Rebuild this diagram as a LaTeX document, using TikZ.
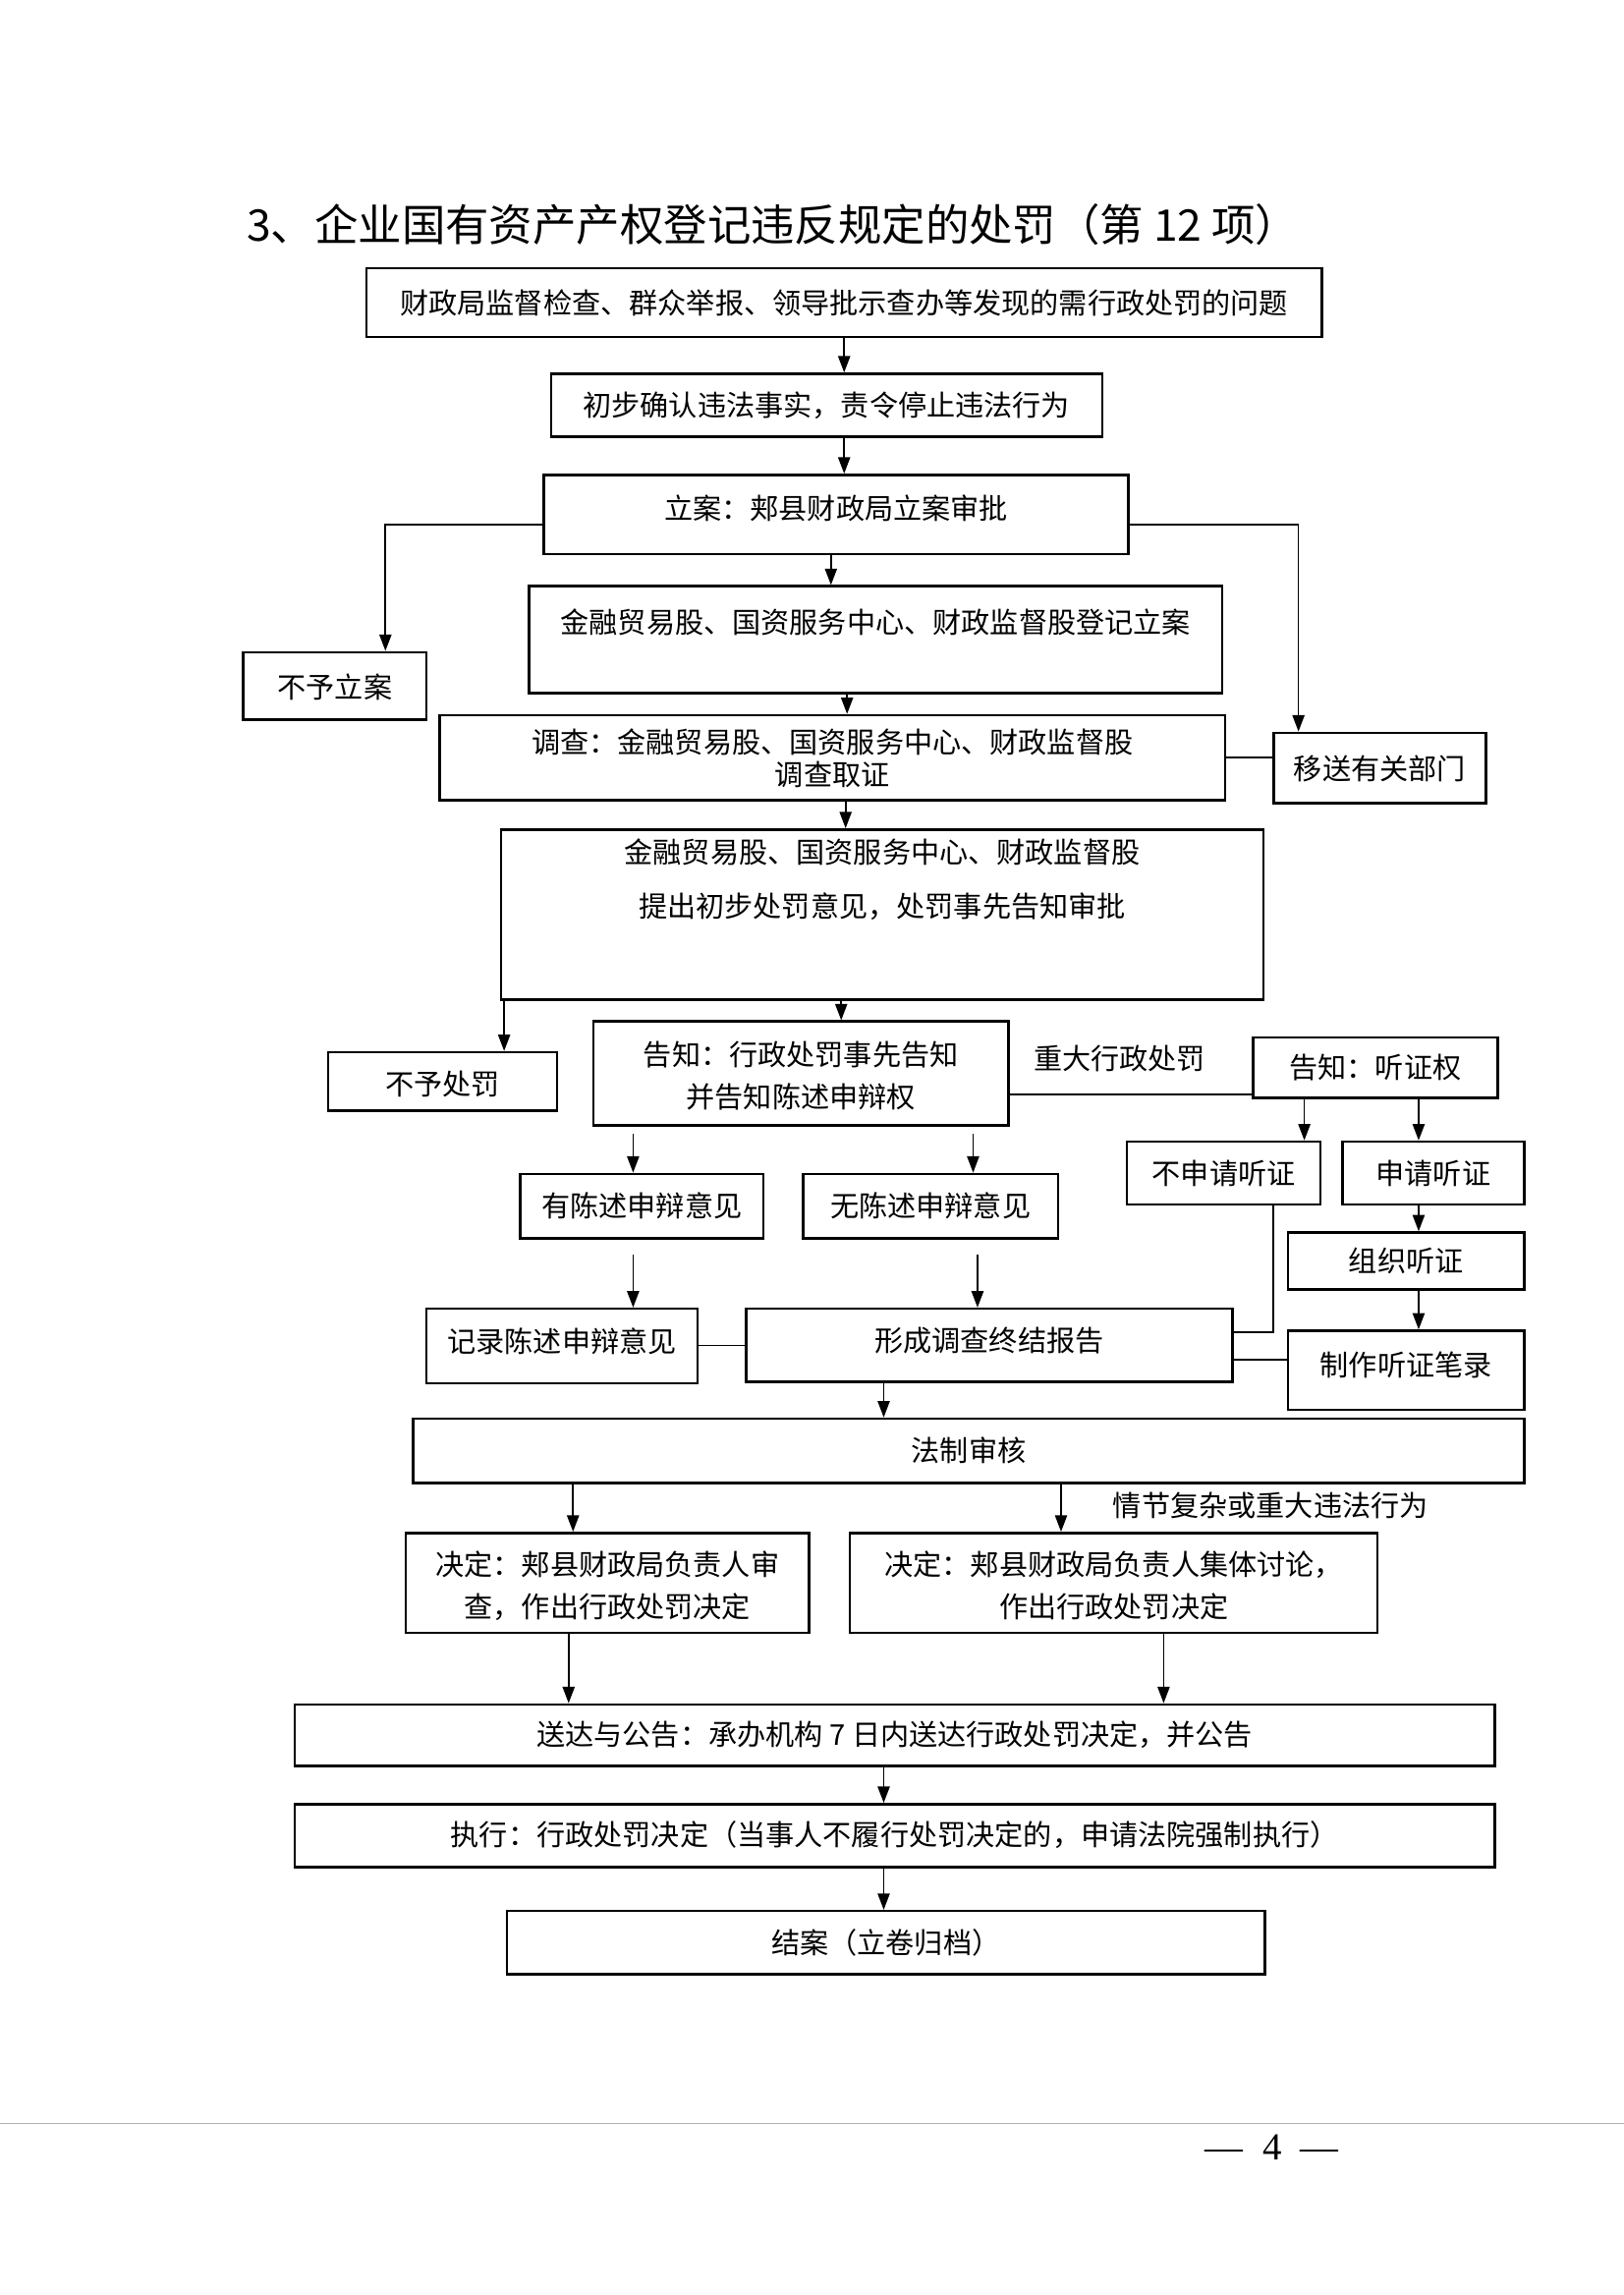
\documentclass[tikz,border=0pt]{standalone}
\usepackage{fontspec}
\setmainfont{Noto Sans CJK SC}
\newfontfamily\serifnum{Liberation Serif}
\usetikzlibrary{arrows.meta}
\newcommand\boxat[7]{%
  \pgfmathsetlengthmacro\myBW{(#4-#2)*0.5373}%
  \pgfmathsetlengthmacro\myTH{(#6-#3)*0.5373}%
  \pgfmathsetlengthmacro\myTD{(#5-#6)*0.5373}%
  \node[box, anchor=base, minimum width=\myBW, text height=\myTH, text depth=\myTD] (#1) at ({(#2+#4)/2},#6) {#7};}
\newcommand\twoline[3][0pt]{\begin{tabular}[b]{@{}c@{}}#2\\[#1]#3\end{tabular}}
\begin{document}
\begin{tikzpicture}[x=0.5373pt, y=-0.5373pt,
  box/.style={draw, line width=0.9pt, inner ysep=0pt, inner xsep=2pt, font=\fontsize{10.5pt}{12.6pt}\selectfont},
  arr/.style={line width=0.6pt, -{Triangle[length=6pt,width=4.4pt]}},
  ln/.style={line width=0.6pt},
  lbl/.style={font=\fontsize{10.5pt}{12.6pt}\selectfont, inner sep=0pt}]
\useasboundingbox (0,0) rectangle (1108,1566);
\node[font=\fontsize{16pt}{19pt}\selectfont, anchor=west, inner sep=0pt] (title) at (168,153) {3、企业国有资产产权登记违反规定的处罚（第 12 项）};

\boxat{b1}{250}{183}{902}{230}{214}{财政局监督检查、群众举报、领导批示查办等发现的需行政处罚的问题}
\boxat{b2}{376}{255}{752}{298}{284}{初步确认违法事实，责令停止违法行为}
\boxat{b3}{371}{324}{770}{378}{354}{立案：郏县财政局立案审批}
\boxat{b4}{361}{400}{834}{473}{432}{金融贸易股、国资服务中心、财政监督股登记立案}
\boxat{bnl}{166}{445}{291}{491}{476}{不予立案}
\boxat{b5}{300}{488}{836}{546}{536}{\twoline[-0.8pt]{调查：金融贸易股、国资服务中心、财政监督股}{调查取证}}
\boxat{bys}{869}{500}{1014}{548}{532}{移送有关部门}
\boxat{b6}{342}{566}{862}{682}{626}{\twoline[7.3pt]{金融贸易股、国资服务中心、财政监督股}{提出初步处罚意见，处罚事先告知审批}}
\boxat{bnp}{224}{718}{380}{758}{747}{不予处罚}
\boxat{bgz}{405}{697}{688}{768}{756}{\twoline[3pt]{告知：行政处罚事先告知}{并告知陈述申辩权}}
\boxat{btz}{855}{708}{1022}{749}{736}{告知：听证权}
\boxat{bbs}{769}{779}{901}{822}{808}{不申请听证}
\boxat{bsq}{916}{779}{1040}{822}{808}{申请听证}
\boxat{byc}{355}{801}{521}{845}{830}{有陈述申辩意见}
\boxat{bwc}{548}{801}{722}{845}{830}{无陈述申辩意见}
\boxat{bzz}{879}{841}{1040}{880}{868}{组织听证}
\boxat{bjl}{291}{893}{476}{944}{923}{记录陈述申辩意见}
\boxat{bxc}{509}{893}{841}{943}{922}{形成调查终结报告}
\boxat{bzb}{879}{908}{1040}{962}{939}{制作听证笔录}
\boxat{bfz}{282}{968}{1040}{1012}{997}{法制审核}
\boxat{bjd1}{277}{1046}{552}{1114}{1104}{\twoline[3pt]{决定：郏县财政局负责人审}{查，作出行政处罚决定}}
\boxat{bjd2}{580}{1046}{940}{1114}{1104}{\twoline[3pt]{决定：郏县财政局负责人集体讨论，}{作出行政处罚决定}}
\boxat{bsd}{201}{1163}{1020}{1205}{1191}{送达与公告：承办机构 7 日内送达行政处罚决定，并公告}
\boxat{bzx}{201}{1231}{1020}{1274}{1259}{执行：行政处罚决定（当事人不履行处罚决定的，申请法院强制执行）}
\boxat{bja}{346}{1304}{863}{1347}{1333}{结案（立卷归档）}

\draw[arr] (b1.south -| 576,0) -- (b2.north -| 576,0);
\draw[arr] (b2.south -| 576,0) -- (b3.north -| 576,0);
\draw[arr] (b3.south -| 567,0) -- (b4.north -| 567,0);
\draw[arr] (b3.west |- 0,358) -| (bnl.north -| 263,0);
\draw[arr] (b3.east |- 0,358) -| (bys.north -| 886,0);
\draw[arr] (b4.south -| 578,0) -- (b5.north -| 578,0);
\draw[ln] (b5.east |- 0,517) -- (bys.west |- 0,517);
\draw[arr] (b5.south -| 577,0) -- (b6.north -| 577,0);
\draw[arr] (b6.south -| 574,0) -- (bgz.north -| 574,0);
\draw[arr] (b6.south -| 344,0) -- (bnp.north -| 344,0);
\draw[ln] (bgz.east |- 0,747) -- (btz.west |- 0,747);
\node[lbl] (l1) at (764,722) {重大行政处罚};
\draw[arr] (btz.south -| 890,0) -- (bbs.north -| 890,0);
\draw[arr] (btz.south -| 968,0) -- (bsq.north -| 968,0);
\draw[arr] (bgz.south -| 432,0) ++(0,5) -- (byc.north -| 432,0);
\draw[arr] (bgz.south -| 664,0) ++(0,5) -- (bwc.north -| 664,0);
\draw[arr] (bsq.south -| 968,0) -- (bzz.north -| 968,0);
\draw[arr] (bzz.south -| 968,0) -- (bzb.north -| 968,0);
\draw[arr] (byc.south -| 432,0) ++(0,10) -- (bjl.north -| 432,0);
\draw[arr] (bwc.south -| 667,0) ++(0,10) -- (bxc.north -| 667,0);
\draw[ln] (bjl.east |- 0,918) -- (bxc.west |- 0,918);
\draw[ln] (bbs.south -| 869,0) |- (bxc.east |- 0,909);
\draw[ln] (bzb.west |- 0,928) -- (bxc.east |- 0,928);
\draw[arr] (bxc.south -| 603,0) -- (bfz.north -| 603,0);
\draw[arr] (bfz.south -| 391,0) -- (bjd1.north -| 391,0);
\draw[arr] (bfz.south -| 724,0) -- (bjd2.north -| 724,0);
\node[lbl] (l2) at (867,1027) {情节复杂或重大违法行为};
\draw[arr] (bjd1.south -| 388,0) -- (bsd.north -| 388,0);
\draw[arr] (bjd2.south -| 794,0) -- (bsd.north -| 794,0);
\draw[arr] (bsd.south -| 603,0) -- (bzx.north -| 603,0);
\draw[arr] (bzx.south -| 603,0) -- (bja.north -| 603,0);

\draw[gray!60, line width=0.4pt] (0,1449) -- (1108,1449);
\node[font=\serifnum\fontsize{14pt}{16pt}\selectfont, inner sep=0pt] (pg) at (868,1465) {—\hspace{7pt}4\hspace{7pt}—};
\end{tikzpicture}
\end{document}
